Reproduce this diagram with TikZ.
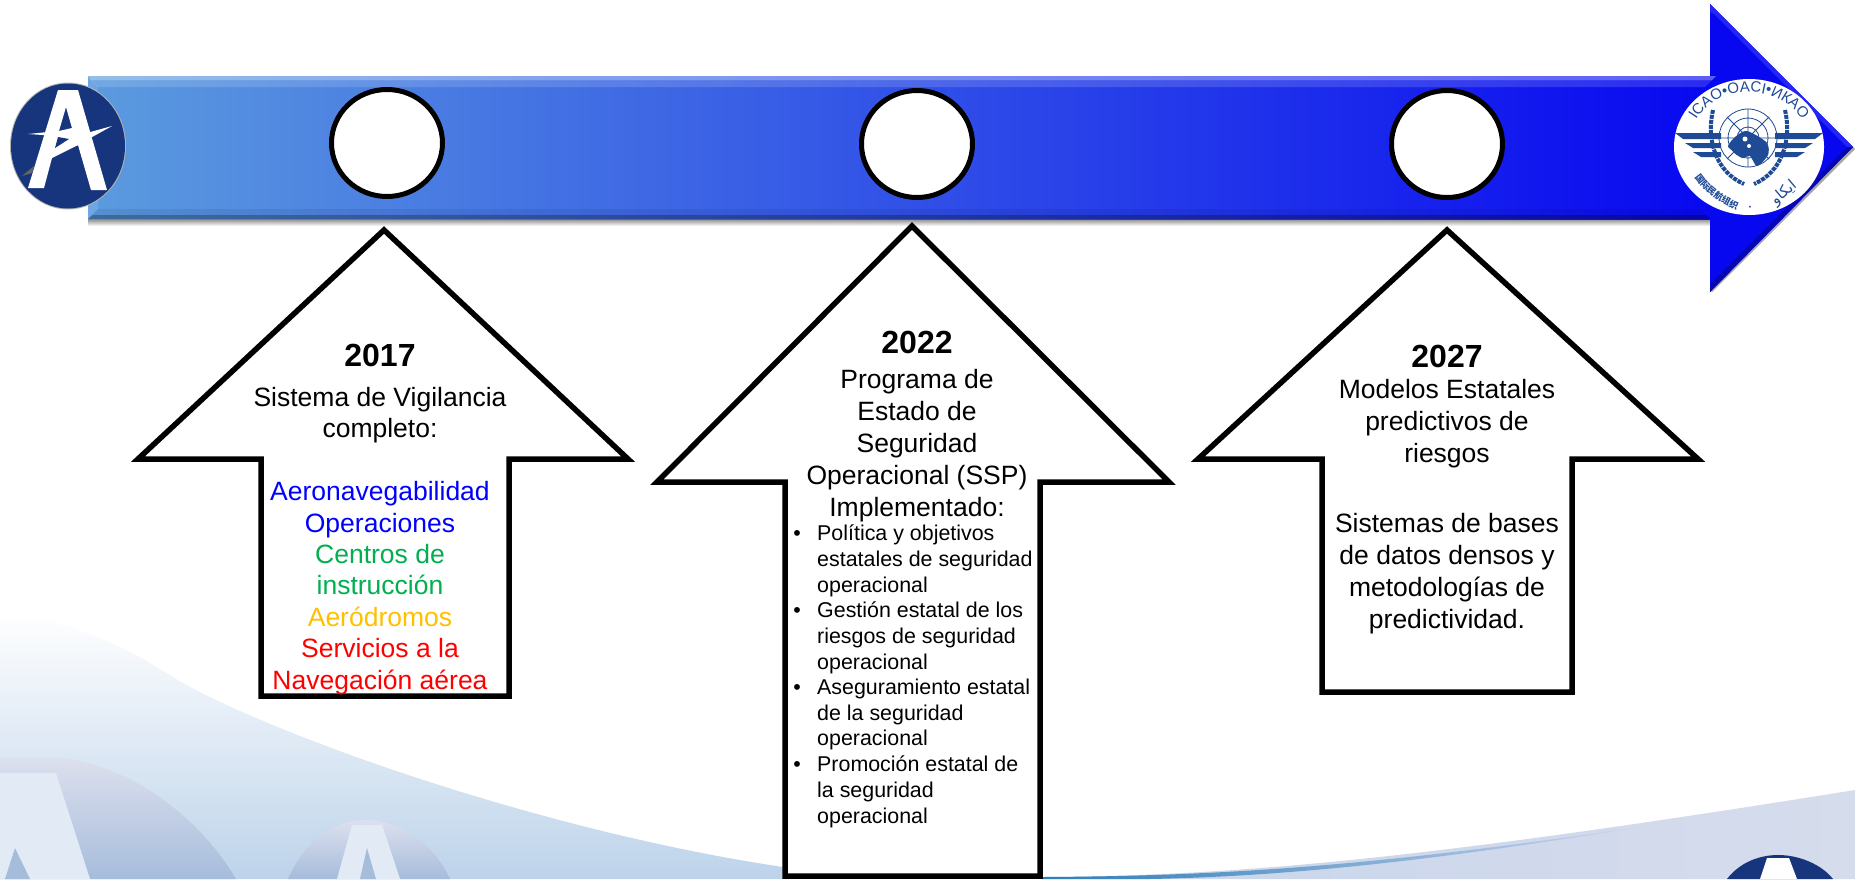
\documentclass[tikz,border=0pt]{standalone}
\usepackage{fontspec}
\setmainfont{Liberation Sans}
\newfontfamily\cjkf{Noto Sans CJK SC}
\newfontfamily\arabf[Script=Arabic]{DejaVu Sans}
\TeXXeTstate=1
\usetikzlibrary{decorations.text,shapes.geometric}
\definecolor{navyA}{HTML}{16357C}
\definecolor{navyI}{HTML}{1F4A96}
\definecolor{cgreen}{HTML}{00B050}
\definecolor{cgold}{HTML}{FFC000}
\definecolor{blueL}{HTML}{5B9BDE}
\definecolor{blueM}{HTML}{2F60E0}
\definecolor{blueR}{HTML}{0808F0}
\definecolor{bgM}{HTML}{F1F4FB}
\definecolor{bgB}{HTML}{BDD3EA}
\definecolor{domeT}{HTML}{DDE0EE}
\definecolor{domeB}{HTML}{A6BCDB}
\definecolor{letterL}{HTML}{E2EAF6}
\definecolor{swL}{HTML}{C9D5EC}
\definecolor{swR}{HTML}{D5DCEC}
\definecolor{bandL}{HTML}{2E7EB8}
\definecolor{bandM}{HTML}{5F8CC4}
\newcommand{\hdfont}{\fontsize{32}{36}\bfseries\selectfont}
\newcommand{\bdfont}{\fontsize{26.5}{32}\selectfont}
\newcommand{\lsfont}{\fontsize{21.4}{25.6}\selectfont}
\tikzset{
  uparrow/.style={draw=black,line width=5.5pt,fill=white,miter limit=10},
  yearbox/.style={font=\hdfont,inner sep=0pt,anchor=center},
  bodybox/.style={font=\bdfont,inner sep=0pt,anchor=north,align=center},
  itembox/.style={font=\lsfont,inner sep=0pt,anchor=north west,align=left},
  bulletbox/.style={font=\lsfont,inner sep=0pt,anchor=north},
  tlcircle/.style={draw=black,line width=5pt,fill=white,ellipse,inner sep=0pt,minimum width=111pt,minimum height=107pt},
}
\begin{document}
\begin{tikzpicture}[x=1pt,y=-1pt]
\useasboundingbox (0,0) rectangle (1855,879);
\fill[white] (0,0) rectangle (1855,879);
% background swooshes
\shade[top color=white,middle color=bgM,bottom color=bgB]
  (0,610) .. controls (110,630) and (150,665) .. (190,687)
  .. controls (300,745) and (560,835) .. (790,868) -- (790,879) -- (0,879) -- cycle;
% large faded letters
\shade[top color=domeT,bottom color=domeB]
  (0,757) -- (50,757) .. controls (120,760) and (195,810) .. (236,879) -- (0,879) -- cycle;
\fill[letterL] (0,773) -- (56,773) -- (90,879) -- (0,879) -- cycle;
\fill[domeB] (5,879) -- (15,848) -- (30,879) -- cycle;
\shade[top color=domeT,bottom color=domeB]
  (288,879) .. controls (305,840) and (335,820) .. (365,820)
  .. controls (400,820) and (435,845) .. (450,879) -- cycle;
\fill[letterL] (352,825) -- (382,825) -- (400,879) -- (337,879) -- cycle;
\fill[domeB] (360,879) -- (367,848) -- (376,879) -- cycle;
% right swoosh
\shade[left color=swL,right color=swR]
  (1042,877) .. controls (1250,876) and (1450,855) .. (1855,790) -- (1855,879) -- (1042,879) -- cycle;
\shade[left color=bandL,middle color=bandM,right color=swL]
  (1042,877) .. controls (1250,876) and (1400,862) .. (1640,827)
  .. controls (1450,858) and (1300,876) .. (1150,879) -- (1042,879) -- cycle;
\fill[navyA] (1727,879) .. controls (1740,862) and (1760,855) .. (1778,855)
  .. controls (1800,855) and (1822,865) .. (1833,879) -- cycle;
\fill[white] (1767,858) -- (1789,858) -- (1797,879) -- (1760,879) -- cycle;
% main arrow shadow
\shade[top color=black!45,bottom color=white] (88,219) rectangle (1712,226);
\fill[black!35] (1712,292) -- (1855,149) -- (1853,147) -- (1710,290) -- cycle;
% main arrow
\fill[blueR] (1710,4) -- (1853,147) -- (1710,292) -- cycle;
\fill[blueR!88!white] (1710,4) -- (1853,147) -- (1847,147) -- (1714,14) -- (1710,12) -- cycle;
\fill[blueR!75!black] (1853,147) -- (1710,292) -- (1710,284) -- (1847,147) -- cycle;
\shade[left color=blueL,middle color=blueM,right color=blueR] (88,76) rectangle (1710,219);
\fill[white,opacity=.35] (88,76) -- (1716,76) -- (1712,80) -- (91,80) -- cycle;
\fill[white,opacity=.14] (91,80) -- (1712,80) -- (1705,87) -- (98,87) -- cycle;
\fill[black,opacity=.3] (88,219) -- (1710,219) -- (1706,215) -- (92,215) -- cycle;
\fill[black,opacity=.07] (92,215) -- (1706,215) -- (1700,209) -- (98,209) -- cycle;
\fill[white,opacity=.12] (88,76) -- (98,87) -- (98,209) -- (88,219) -- cycle;
% left logo
\fill[black!30] (68,146) ellipse [x radius=58,y radius=63.5];
\fill[navyA] (68,146) ellipse [x radius=57,y radius=62.5];
\fill[white,even odd rule] (58,90) -- (78,90) -- (107,190) -- (91,190) -- (78,145) -- (52,158) -- (44,188) -- (28,188) -- cycle
  (66,107) -- (59,131) -- (72,128) -- cycle;
\fill[navyA] (58,137) -- (69,139) -- (55,148) -- cycle;
\fill[white] (112,126) -- (76,136) -- (76,146) -- cycle;
\fill[white] (28,134) -- (58,131) -- (57,136) -- cycle;
\fill[black!60] (22,176) -- (34,166) -- (32,173) -- cycle;
% ICAO logo
\fill[white] (1749,147) ellipse [x radius=75,y radius=68];
\foreach \yt/\yb/\xa in {133/139/1675,143/148/1685,152/157/1693}{
  \fill[navyI] (\xa,\yt) -- (1721,\yt) -- (1721,\yb) -- (\xa+8,\yb) -- cycle;
  \fill[navyI] (3498-\xa,\yt) -- (1775,\yt) -- (1775,\yb) -- (3490-\xa,\yb) -- cycle;
}
\draw[navyI,line width=.8pt] (1748,138) circle (29) (1748,138) circle (20) (1748,138) circle (11)
  (1748,109) -- (1748,167) (1719,138) -- (1777,138) (1727,117) -- (1769,159) (1769,117) -- (1727,159);
\fill[navyI] plot[smooth cycle] coordinates {(1735,137) (1745,131) (1754,134) (1767,143) (1768,155) (1757,166) (1750,156) (1742,158) (1733,151) (1728,146)};
\fill[white] (1745,139) circle (2.5) (1749,146) circle (2);
\draw[navyI,line width=4pt,dash pattern=on 4pt off 1pt] (1713,110) .. controls (1706,140) and (1716,172) .. (1744,184);
\draw[navyI,line width=4pt,dash pattern=on 4pt off 1pt] (1785,110) .. controls (1792,140) and (1782,172) .. (1754,184);
\path[decorate,decoration={text along path,text align=center,
  text={|\color{navyI}\fontsize{15}{15}\selectfont|ICAO•OACI•ИКАО}}]
  (1692,128) .. controls (1712,80) and (1786,80) .. (1806,128);
\path[decorate,decoration={text along path,text align=center,
  text={|\color{navyI}\cjkf\bfseries\fontsize{9}{9}\selectfont|国际民航组织}}]
  (1690,170) .. controls (1703,192) and (1720,205) .. (1745,212);
\node[inner sep=0pt,text=navyI] (icaodot) at (1750,208) {\fontsize{7}{7}\selectfont •};
\node[inner sep=0pt,text=navyI,rotate=40] (icaoar) at (1784,193) {\arabf\fontsize{15}{15}\selectfont\beginR ايكاو\endR};
% timeline circles
\node[tlcircle] (c1) at (387,143) {};
\node[tlcircle] (c2) at (917,144) {};
\node[tlcircle] (c3) at (1447,144) {};
% up arrows
\draw[uparrow] (384,230) -- (628,459) -- (509,459) -- (509,696) -- (261,696) -- (261,459) -- (138,459) -- cycle;
\draw[uparrow] (912,226) -- (1169,482) -- (1040,482) -- (1040,876) -- (785,876) -- (785,482) -- (657,482) -- cycle;
\draw[uparrow] (1447,230) -- (1698,459) -- (1572,459) -- (1572,692) -- (1322,692) -- (1322,459) -- (1198,459) -- cycle;
% arrow 1 text
\node[yearbox] (y1) at (380,355) {2017};
\node[bodybox,font=\fontsize{26.5}{31.4}\selectfont] (b1) at (380,387) {Sistema de Vigilancia\\completo:\\~\\
  \textcolor{blue}{Aeronavegabilidad}\\\textcolor{blue}{Operaciones}\\
  \textcolor{cgreen}{Centros de}\\\textcolor{cgreen}{instrucción}\\
  \textcolor{cgold}{Aeródromos}\\\textcolor{red}{Servicios a la}\\\textcolor{red}{Navegación aérea}};
% arrow 2 text
\node[yearbox] (y2) at (917,342) {2022};
\node[bodybox] (b2) at (917,369) {Programa de\\Estado de\\Seguridad\\Operacional (SSP)\\Implementado:};
\node[itembox] (i1) at (817,525) {Política y objetivos\\estatales de seguridad\\operacional};
\node[itembox] (i2) at (817,602) {Gestión estatal de los\\riesgos de seguridad\\operacional};
\node[itembox] (i3) at (817,679) {Aseguramiento estatal\\de la seguridad\\operacional};
\node[itembox] (i4) at (817,756) {Promoción estatal de\\la seguridad\\operacional};
\node[bulletbox] (d1) at (797,530) {•};
\node[bulletbox] (d2) at (797,607) {•};
\node[bulletbox] (d3) at (797,684) {•};
\node[bulletbox] (d4) at (797,761) {•};
% arrow 3 text
\node[yearbox] (y3) at (1447,356) {2027};
\node[bodybox] (b3) at (1447,379) {Modelos Estatales\\predictivos de\\riesgos\\[38pt]Sistemas de bases\\de datos densos y\\metodologías de\\predictividad.};
\end{tikzpicture}
\end{document}
